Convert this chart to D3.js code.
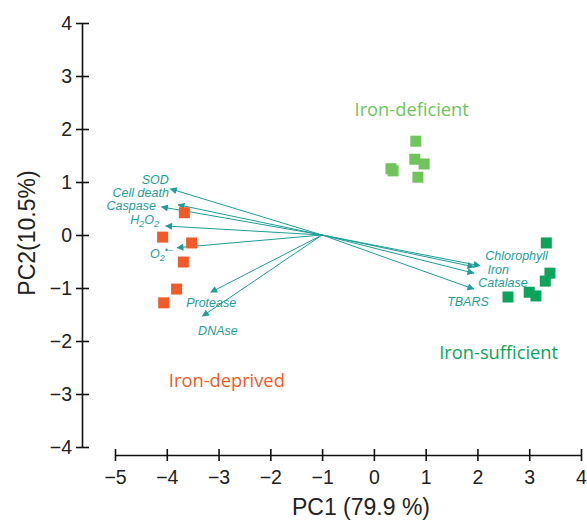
<!DOCTYPE html>
<html><head><meta charset="utf-8">
<script src="https://cdn.jsdelivr.net/npm/d3@7"></script>
<style>body{margin:0;background:#fff}</style>
</head><body>
<svg id="c" width="587" height="523"></svg>
<script>
const xTicks = [-5,-4,-3,-2,-1,0,1,2,3,4];
const yTicks = [-4,-3,-2,-1,0,1,2,3,4];
const groups = ["Iron-deficient","Iron-sufficient","Iron-deprived"];
const ironDeprived = [[-3.66,0.42],[-4.08,-0.04],[-3.52,-0.15],[-3.68,-0.51],[-3.81,-1.02],[-4.06,-1.28]];
const ironDeficient = [[0.81,1.77],[0.79,1.43],[0.97,1.34],[0.37,1.21],[0.33,1.25],[0.85,1.09]];
const ironSufficient = [[3.33,-0.15],[3.40,-0.72],[3.31,-0.87],[3.00,-1.08],[3.13,-1.15],[2.59,-1.17]];
const loadingOrigin = [-1,0];
const loadingNames = ["SOD","Cell death","Caspase","H2O2","O2","Protease","DNAse","Chlorophyll","Iron","Catalase","TBARS"];
const loadingTips = [[-3.93,0.87],[-3.78,0.57],[-4.10,0.53],[-4.02,0.17],[-3.80,-0.24],[-3.15,-1.08],[-3.31,-1.53],[2.05,-0.58],[1.93,-0.60],[1.93,-0.72],[1.93,-1.02]];
const labelPos = [[-3.96,0.97],[-3.96,0.72],[-4.21,0.47],[-4.15,0.21],[-3.88,-0.43],[-2.66,-1.36],[-2.63,-1.89],[3.36,-0.48],[2.61,-0.74],[2.97,-0.99],[2.22,-1.34]];
const groupLabelPos = [[0.73,2.25],[2.41,-2.34],[-2.84,-2.87]];

const svg = d3.select("#c");
const x = d3.scaleLinear().domain([-5,4]).range([115,581]);
const y = d3.scaleLinear().domain([-4,4]).range([447,23]);
const teal = "#1f9d96";
const colors = {"Iron-deficient":"#6fc45c","Iron-sufficient":"#0ca35a","Iron-deprived":"#f15a29"};
const sans = "Liberation Sans, Arial, sans-serif";

// axes
const xa = svg.append("g").attr("transform","translate(0,455)")
  .call(d3.axisBottom(x).tickValues(xTicks).tickSize(6).tickSizeOuter(0).tickFormat(d=>d<0?"\u2212"+(-d):d));
xa.select(".domain").attr("stroke","#111").attr("stroke-width",1.6);
xa.selectAll(".tick line").attr("stroke","#111").attr("stroke-width",1.6).attr("y1",-6).attr("y2",6);
xa.selectAll(".tick text").attr("font-family",sans).attr("font-size",19.5).attr("fill","#222").attr("y",10).attr("dy","0.95em");

const ya = svg.append("g").attr("transform","translate(82,0)")
  .call(d3.axisLeft(y).tickValues(yTicks).tickSize(6).tickSizeOuter(0).tickFormat(d=>d<0?"\u2212"+(-d):d));
ya.select(".domain").attr("stroke","#111").attr("stroke-width",1.6);
ya.selectAll(".tick line").attr("stroke","#111").attr("stroke-width",1.6).attr("x1",-6).attr("x2",7);
ya.selectAll(".tick text").attr("font-family",sans).attr("font-size",19.5).attr("fill","#222").attr("x",-10);

svg.append("text").attr("x",361).attr("y",515).attr("text-anchor","middle")
  .attr("font-family",sans).attr("font-size",23).attr("fill","#222").text("PC1 (79.9 %)");
svg.append("text").attr("transform","translate(35,233) rotate(-90)").attr("text-anchor","middle")
  .attr("font-family",sans).attr("font-size",23).attr("fill","#222").text("PC2(10.5%)");

// arrows
svg.append("defs").append("marker").attr("id","ah").attr("viewBox","0 0 10 10").attr("refX",9).attr("refY",5)
  .attr("markerWidth",8).attr("markerHeight",7).attr("markerUnits","userSpaceOnUse").attr("orient","auto")
  .append("path").attr("d","M0,0 L10,5 L0,10 z").attr("fill",teal);
svg.append("g").selectAll("line").data(loadingTips).join("line")
  .attr("x1",x(loadingOrigin[0])).attr("y1",y(loadingOrigin[1]))
  .attr("x2",d=>x(d[0])).attr("y2",d=>y(d[1]))
  .attr("stroke",teal).attr("stroke-width",1).attr("marker-end","url(#ah)");

// labels
const lg = svg.append("g").attr("font-family",sans).attr("font-size",12.5)
  .attr("font-style","italic").attr("fill",teal);
loadingNames.forEach((n,i)=>{
  const t = lg.append("text").attr("x",x(labelPos[i][0])).attr("y",y(labelPos[i][1])).attr("text-anchor","end");
  if(n==="H2O2"){
    t.append("tspan").text("H");
    t.append("tspan").attr("font-size",9).attr("dy",3).text("2");
    t.append("tspan").attr("dy",-3).text("O");
    t.append("tspan").attr("font-size",9).attr("dy",3).text("2");
  } else if(n==="O2"){
    t.append("tspan").text("O");
    t.append("tspan").attr("font-size",9).attr("dy",3).text("2");
    t.append("tspan").attr("font-size",9).attr("dy",-8).text("\u2022\u2013");
  } else t.text(n);
});

// points
const sq = 11;
[[ironDeficient,"Iron-deficient"],[ironSufficient,"Iron-sufficient"],[ironDeprived,"Iron-deprived"]].forEach(([pts,g])=>{
  svg.append("g").selectAll("rect").data(pts).join("rect")
    .attr("x",d=>x(d[0])-sq/2).attr("y",d=>y(d[1])-sq/2).attr("width",sq).attr("height",sq).attr("fill",colors[g]);
});

// group labels
groups.forEach((g,i)=>{
  svg.append("text").attr("x",x(groupLabelPos[i][0])).attr("y",y(groupLabelPos[i][1])).attr("text-anchor","middle")
    .attr("font-family","Open Sans, sans-serif").attr("font-size",18.3).attr("fill",colors[g]).text(g);
});
</script>
</body></html>
